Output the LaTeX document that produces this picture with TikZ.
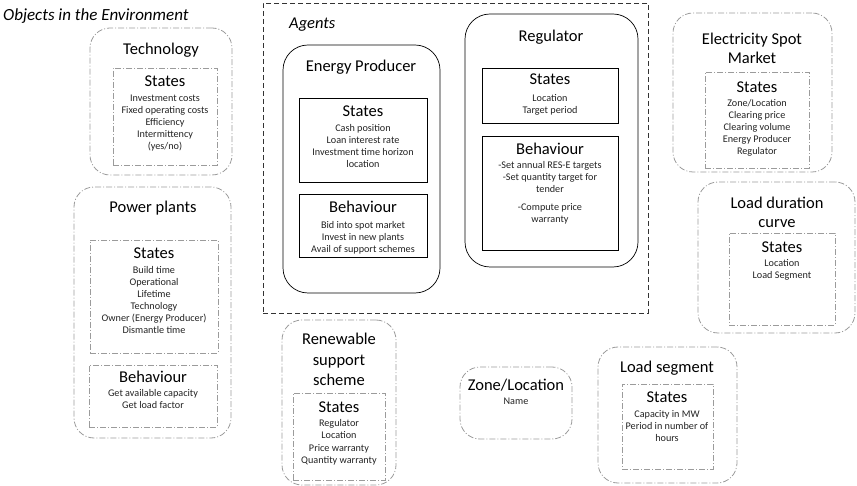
\documentclass[tikz,border=0pt]{standalone}
\usepackage{fontspec}
\setmainfont{Carlito}
\usetikzlibrary{fit}
\definecolor{envgray}{RGB}{155,155,155}
\definecolor{txtgray}{RGB}{35,35,35}
\tikzset{
  envbox/.style={draw=envgray, line width=0.8pt, rounded corners=20pt, dash pattern=on 6pt off 2pt on 1pt off 2pt, inner sep=0pt},
  envinner/.style={draw=envgray, line width=0.8pt, dash pattern=on 6pt off 2pt on 1pt off 2pt, inner sep=0pt},
  agentbox/.style={draw=black, line width=0.7pt, rounded corners=25pt, inner sep=0pt},
  agentinner/.style={draw=black, line width=0.7pt, inner sep=0pt},
  groupbox/.style={draw=black!80, line width=0.8pt, dash pattern=on 5pt off 3pt, inner sep=0pt},
  ttl/.style={font=\fontsize{16.5}{19}\selectfont, anchor=base, inner sep=0pt, text=black},
  ttlm/.style={font=\fontsize{16.5}{19}\selectfont, anchor=north, inner sep=0pt, align=center, text=black},
  itl/.style={font=\fontsize{16.5}{19}\selectfont\itshape, anchor=base west, inner sep=0pt, text=black},
  lst/.style={font=\fontsize{10.2}{12}\selectfont, anchor=north, inner sep=0pt, align=center, text=txtgray},
}
\begin{document}
\begin{tikzpicture}[x=1pt, y=-1pt]
\useasboundingbox (0,0) rectangle (857,486);

% title
\node[itl, font=\fontsize{17}{19}\selectfont\itshape] (objt) at (3,21) {Objects in the Environment};

% Technology
\node[envbox, fit={(90,28) (232,175)}] (tech) {};
\node[ttl] (techt) at (161,55) {Technology};
\node[envinner, fit={(113,68) (217,165)}] (techs) {};
\node[ttl] (techst) at (165,87) {States};
\node[lst] (techsl) at (165,95) {Investment costs\\Fixed operating costs\\Efficiency\\Intermittency\\(yes/no)};

% Power plants
\node[envbox, fit={(74,187) (231,438)}] (pp) {};
\node[ttl] (ppt) at (153,213) {Power plants};
\node[envinner, fit={(90,240) (218,353)}] (pps) {};
\node[ttl] (ppst) at (154,259) {States};
\node[lst] (ppsl) at (154,266) {Build time\\Operational\\Lifetime\\Technology\\Owner (Energy Producer)\\Dismantle time};
\node[envinner, fit={(89,365) (217,427)}] (ppb) {};
\node[ttl] (ppbt) at (153,382) {Behaviour};
\node[lst] (ppbl) at (153,389) {Get available capacity\\Get load factor};

% Agents
\node[groupbox, fit={(263,3) (648,313)}] (agents) {};
\node[itl] (agentst) at (289,29) {Agents};

% Energy Producer
\node[agentbox, fit={(283,45) (440,293)}] (ep) {};
\node[ttl] (ept) at (361,72) {Energy Producer};
\node[agentinner, fit={(299,98) (427,182)}] (eps) {};
\node[ttl] (epst) at (363,117) {States};
\node[lst] (epsl) at (363,124) {Cash position\\Loan interest rate\\Investment time horizon\\location};
\node[agentinner, fit={(299,194) (427,257)}] (epb) {};
\node[ttl] (epbt) at (363,213) {Behaviour};
\node[lst] (epbl) at (363,221) {Bid into spot market\\Invest in new plants\\Avail of support schemes};

% Regulator
\node[agentbox, fit={(465,14) (638,267)}] (reg) {};
\node[ttl] (regt) at (551,42) {Regulator};
\node[agentinner, fit={(482,68) (618,123)}] (regs) {};
\node[ttl] (regst) at (550,85) {States};
\node[lst] (regsl) at (550,94) {Location\\Target period};
\node[agentinner, fit={(482,136) (618,250)}] (regb) {};
\node[ttl] (regbt) at (550,155) {Behaviour};
\node[lst] (regbl) at (550,161) {-Set annual RES-E targets\\-Set quantity target for\\tender\\[6pt]-Compute price\\warranty};

% Electricity Spot Market
\node[envbox, fit={(673,13) (832,172)}] (esm) {};
\node[ttlm] (esmt) at (752,33) {Electricity Spot\\Market};
\node[envinner, fit={(705,72) (809,168)}] (esms) {};
\node[ttl] (esmst) at (757,93) {States};
\node[lst] (esmsl) at (757,99) {Zone/Location\\Clearing price\\Clearing volume\\Energy Producer\\Regulator};

% Load duration curve
\node[envbox, fit={(698,182) (855,333)}] (ldc) {};
\node[ttlm] (ldct) at (777,197) {Load duration\\curve};
\node[envinner, fit={(729,233) (835,325)}] (ldcs) {};
\node[ttl] (ldcst) at (782,253) {States};
\node[lst] (ldcsl) at (782,259) {Location\\Load Segment};

% Renewable support scheme
\node[envbox, fit={(282,320) (396,485)}] (rss) {};
\node[ttlm, font=\fontsize{16.5}{20.5}\selectfont] (rsst) at (339,333) {Renewable\\support\\scheme};
\node[envinner, fit={(293,393) (385,480)}] (rsss) {};
\node[ttl] (rssst) at (339,412) {States};
\node[lst, font=\fontsize{10.2}{12.5}\selectfont] (rsssl) at (339,419) {Regulator\\Location\\Price warranty\\Quantity warranty};

% Zone/Location
\node[envbox, fit={(460,367) (572,439)}] (zone) {};
\node[ttl] (zonet) at (516,390) {Zone/Location};
\node[lst] (zonel) at (516,398) {Name};

% Load segment
\node[envbox, fit={(598,347) (737,483)}] (ls) {};
\node[ttl] (lst) at (667,373) {Load segment};
\node[envinner, fit={(622,384) (713,469)}] (lss) {};
\node[ttl] (lsst) at (667,402) {States};
\node[lst] (lssl) at (667,410) {Capacity in MW\\Period in number of\\hours};
\end{tikzpicture}
\end{document}
